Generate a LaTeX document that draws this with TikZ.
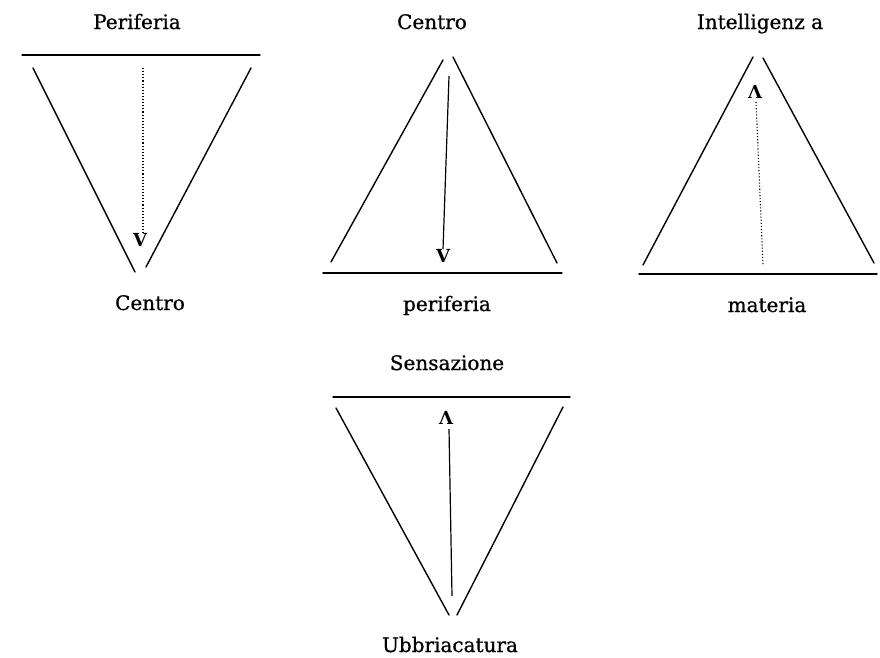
\documentclass[tikz,border=0pt]{standalone}
\usepackage{fontspec}
\setmainfont{DejaVu Serif}
\newfontfamily\lblfont[FakeBold=0.8]{DejaVu Serif}
\begin{document}
\begin{tikzpicture}[x=1pt,y=-1pt,
  edge/.style={line width=1.4pt, line cap=round},
  dotline/.style={line width=1.1pt, dotted},
  lbl/.style={anchor=base, inner sep=0pt, font=\lblfont\fontsize{20}{23}\selectfont},
  sym/.style={inner sep=0pt, font=\bfseries\fontsize{18}{20}\selectfont}]
\useasboundingbox (0,0) rectangle (880,657);
% ---------- panel 1 ----------
\node[lbl] (p1top) at (137,29) {Periferia};
\node[lbl] (p1bot) at (150,310) {Centro};
\coordinate (p1a) at (22,55); \coordinate (p1b) at (260,55);
\coordinate (p1l1) at (33,68); \coordinate (p1l2) at (135,272);
\coordinate (p1r1) at (251,68); \coordinate (p1r2) at (146,267);
\coordinate (p1d1) at (143,68);
\node[sym] (p1v) at (140,240) {V};
\draw[edge] (p1a) -- (p1b);
\draw[edge] (p1l1) -- (p1l2);
\draw[edge] (p1r1) -- (p1r2);
\draw[dotline] (p1d1) -- (p1v.north -| p1d1);
% ---------- panel 2 ----------
\node[lbl] (p2top) at (432,29) {Centro};
\node[lbl] (p2bot) at (447,311) {periferia};
\coordinate (p2l1) at (443,60); \coordinate (p2l2) at (331,262);
\coordinate (p2r1) at (453,57); \coordinate (p2r2) at (557,263);
\coordinate (p2a) at (323,273); \coordinate (p2b) at (562,273);
\coordinate (p2s) at (449,76);
\node[sym] (p2v) at (443,256) {V};
\draw[edge] (p2l1) -- (p2l2);
\draw[edge] (p2r1) -- (p2r2);
\draw[edge] (p2a) -- (p2b);
\draw[line width=1.2pt] (p2s) -- (p2v.north);
% ---------- panel 3 ----------
\node[lbl] (p3top) at (760,29) {Intelligenz a};
\node[lbl] (p3bot) at (767,312) {materia};
\coordinate (p3l1) at (753,57); \coordinate (p3l2) at (643,265);
\coordinate (p3r1) at (763,58); \coordinate (p3r2) at (874,263);
\coordinate (p3a) at (639,274); \coordinate (p3b) at (877,274);
\coordinate (p3d1) at (756,102); \coordinate (p3d2) at (763,265);
\node[sym] (p3v) at (755,92) {Λ};
\draw[edge] (p3l1) -- (p3l2);
\draw[edge] (p3r1) -- (p3r2);
\draw[edge] (p3a) -- (p3b);
\draw[dotline] (p3d1) -- (p3d2);
% ---------- panel 4 ----------
\node[lbl] (p4top) at (447,370) {Sensazione};
\node[lbl] (p4bot) at (450,652) {Ubbriacatura};
\coordinate (p4a) at (333,397); \coordinate (p4b) at (570,397);
\coordinate (p4l1) at (336,408); \coordinate (p4l2) at (449,615);
\coordinate (p4r1) at (563,407); \coordinate (p4r2) at (457,615);
\coordinate (p4s) at (449,429); \coordinate (p4e) at (452,596);
\node[sym] (p4v) at (446,418) {Λ};
\draw[edge] (p4a) -- (p4b);
\draw[edge] (p4l1) -- (p4l2);
\draw[edge] (p4r1) -- (p4r2);
\draw[line width=1.2pt] (p4s) -- (p4e);
\end{tikzpicture}
\end{document}
